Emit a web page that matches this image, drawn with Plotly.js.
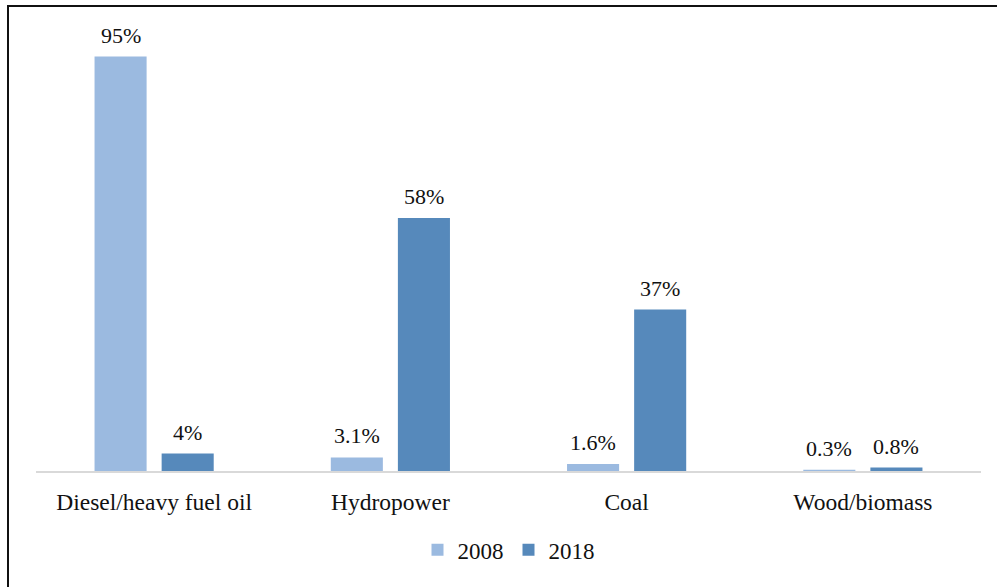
<!DOCTYPE html>
<html>
<head>
<meta charset="utf-8">
<script src="https://cdn.plot.ly/plotly-3.0.1.min.js"></script>
<style>
  html, body { margin: 0; padding: 0; background: #fff; overflow: hidden; }
  #frame { position: absolute; left: 7px; top: 5px; width: 1100px; height: 700px; border-top: 2px solid #111; border-left: 2px solid #111; pointer-events: none; z-index: 5; }
  #chart { position: absolute; left: 0; top: 0; width: 997px; height: 587px; }
</style>
</head>
<body>
<div id="chart"></div>
<div id="frame"></div>
<script>
const categories = ["Diesel/heavy fuel oil", "Hydropower", "Coal", "Wood/biomass"];
const values2008 = [95, 3.1, 1.6, 0.3];
const values2018 = [4, 58, 37, 0.8];
const labels2008 = ["95%", "3.1%", "1.6%", "0.3%"];
const labels2018 = ["4%", "58%", "37%", "0.8%"];
const seriesNames = ["2008", "2018"];
const colors = ["#9bbae0", "#5689bb"];

const font = "Liberation Serif, Times New Roman, serif";

const W = 997, H = 587;
const margin = { l: 36, r: 16, t: 13, b: 116 };
const bargap = 0.432, bargroupgap = 0.224;

const traces = [
  {
    type: "bar", name: seriesNames[0], x: categories, y: values2008,
    marker: { color: colors[0] }, hoverinfo: "none"
  },
  {
    type: "bar", name: seriesNames[1], x: categories, y: values2018,
    marker: { color: colors[1] }, hoverinfo: "none"
  }
];

// Offset of each bar centre from category centre, from the band width
const band = (W - margin.l - margin.r) / categories.length;
const slot = band * (1 - bargap) / 2;
const annotations = [];
[[values2008, labels2008, -slot / 2], [values2018, labels2018, slot / 2]].forEach(([vals, labs, dx]) => {
  categories.forEach((c, i) => {
    annotations.push({
      x: c, y: vals[i], xref: "x", yref: "y", text: labs[i],
      showarrow: false, xanchor: "center", yanchor: "bottom",
      xshift: dx, yshift: 7,
      font: { family: font, size: 22, color: "#111" }
    });
  });
});

const layout = {
  width: W, height: H,
  margin: margin,
  paper_bgcolor: "#fff", plot_bgcolor: "#fff",
  barmode: "group", bargap: bargap, bargroupgap: bargroupgap,
  font: { family: font, size: 22, color: "#111" },
  xaxis: {
    showline: true, linecolor: "#d9d9d9", linewidth: 2,
    ticks: "", showgrid: false, zeroline: false,
    tickfont: { family: font, size: 23.5, color: "#111" },
    ticklabelstandoff: 9
  },
  yaxis: {
    range: [0, 105], visible: false, showgrid: false, zeroline: false
  },
  annotations: annotations,
  showlegend: true,
  legend: {
    orientation: "h", x: 0.5, xanchor: "center", y: -0.172, yanchor: "middle",
    font: { family: font, size: 23, color: "#111" },
    itemwidth: 30, traceorder: "normal"
  }
};

Plotly.newPlot("chart", traces, layout, { displayModeBar: false, staticPlot: true });
</script>
</body>
</html>
